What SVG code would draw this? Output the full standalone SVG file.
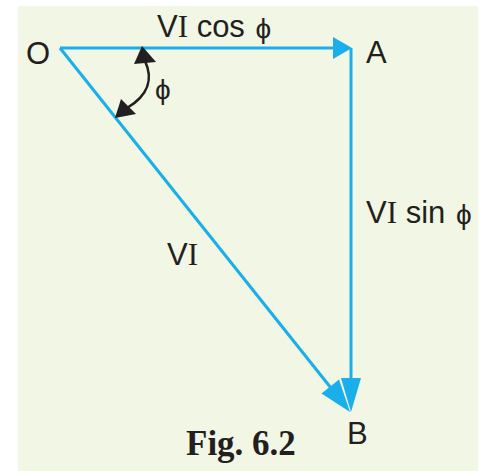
<svg xmlns="http://www.w3.org/2000/svg" width="485" height="471" viewBox="0 0 485 471">
<style>
.lbl{font-family:"Liberation Sans","DejaVu Sans",sans-serif;font-size:31px;fill:#231f20}
.ser{font-family:"Liberation Serif",serif}
.phi{font-family:"Liberation Sans","DejaVu Sans",sans-serif;font-size:28px}
.cap{font-family:"Liberation Serif",serif;font-weight:bold;font-size:35px;fill:#231f20}
.vec{stroke:#1aaeea;stroke-width:3;fill:none}
.head{fill:#1aaeea}
.arc{stroke:#231f20;stroke-width:2.6;fill:none}
.khead{fill:#231f20}
</style>
<rect x="18" y="6" width="460" height="465" fill="#f2f6e5"/>
<g id="connectors">
<line class="vec" x1="60" y1="48" x2="336" y2="48"/>
<polygon class="head" points="352,48 333,37 333,59"/>
<line class="vec" x1="351" y1="48" x2="351" y2="380"/>
<polygon class="head" points="351,412 341,378 361,378"/>
<line class="vec" x1="60" y1="48" x2="331" y2="388"/>
<polygon class="head" points="350,412 321.5,393.5 339,379.5"/>
<g id="angle">
<path class="arc" d="M145,61 C153,78 149,95 127,108"/>
<polygon class="khead" points="142,46 134,64 156,62"/>
<polygon class="khead" points="115,118 121,99 136,114"/>
</g>
</g>
<g id="node-O"><text class="lbl" x="26" y="64">O</text></g>
<g id="node-A"><text class="lbl" x="366" y="63">A</text></g>
<g id="node-B"><text class="lbl" x="347" y="444">B</text></g>
<g id="label-cos"><text class="lbl" x="157" y="37">V<tspan class="ser">I</tspan> cos <tspan class="phi" dx="2" dy="1">ϕ</tspan></text></g>
<g id="label-sin"><text class="lbl" x="366" y="223">V<tspan class="ser">I</tspan> sin <tspan class="phi" dx="2" dy="1">ϕ</tspan></text></g>
<g id="label-vi"><text class="lbl" x="167" y="265">V<tspan class="ser">I</tspan></text></g>
<g id="label-phi"><text class="lbl" x="155" y="99"><tspan class="phi">ϕ</tspan></text></g>
<g id="caption"><text class="cap" x="186" y="455">Fig. 6.2</text></g>
</svg>
